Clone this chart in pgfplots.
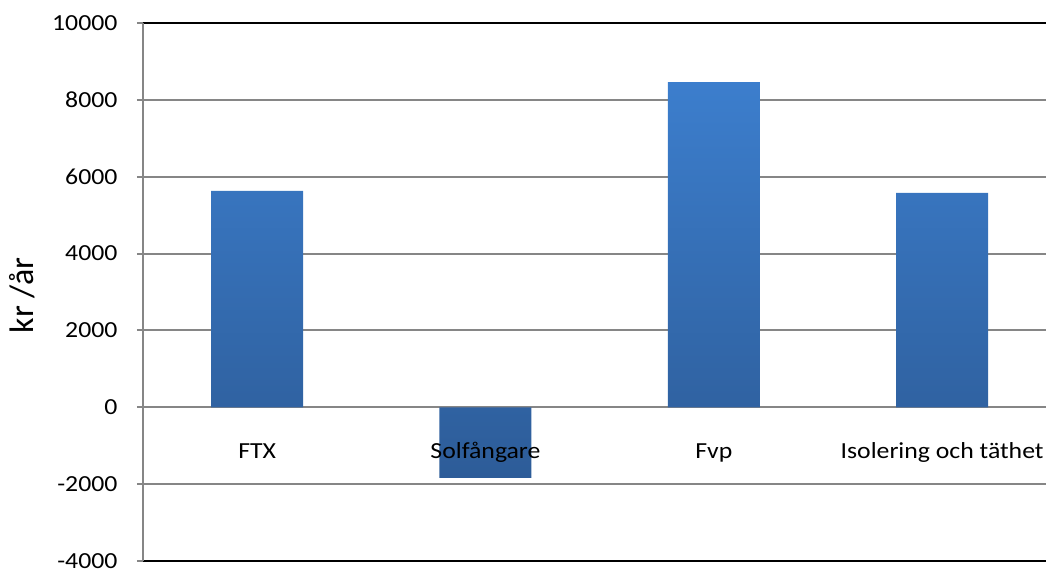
\documentclass[border=0pt]{standalone}
\usepackage{pgfplots}
\pgfplotsset{compat=1.18}
\usepackage{fontspec}
\setmainfont{Carlito}[FakeStretch=1.12]
\newfontfamily\ylabfont{Carlito}
\definecolor{bartop}{RGB}{60,126,205}
\definecolor{barbot}{RGB}{45,92,152}
\definecolor{gridgray}{RGB}{134,134,134}
\begin{document}
\begin{tikzpicture}
\begin{axis}[
  name=ax,
  scale only axis, width=903pt, height=538pt,
  xmin=-0.5, xmax=3.455, ymin=-4000, ymax=10000,
  ytick={-4000,-2000,0,2000,4000,6000,8000,10000},
  scaled y ticks=false,
  xtick=\empty,
  axis x line=box, axis y line=left,
  axis line style={-},
  x axis line style={black, line width=2pt},
  y axis line style={gridgray, line width=2pt},
  ymajorgrids, major grid style={gridgray, line width=2pt},
  tick align=outside, major tick length=6pt,
  ytick style={gridgray, line width=2pt},
  /pgf/number format/.cd, 1000 sep={}, assume math mode=true,
  /pgfplots/.cd,
  tick label style={font=\fontsize{23}{27}\selectfont, black},
  yticklabel style={xshift=-16pt},
  ylabel={kr /år},
  ylabel style={font=\ylabfont\fontsize{34}{40}\selectfont, at={(rel axis cs:-0.1335,0.494)}, anchor=center},
  clip=false,
]
\addplot[ybar, bar width=92pt, draw=none, top color=bartop, bottom color=barbot]
  coordinates {(0,5630) (1,-1840) (2,8460) (3,5580)};
\addplot[draw=none, mark=none, point meta=explicit symbolic,
  nodes near coords,
  every node near coord/.style={anchor=base, yshift=-51.5pt, inner sep=0pt, font=\fontsize{23}{27}\selectfont, text=black}]
  coordinates {(0,0) [FTX] (1,0) [Solfångare] (2,0) [Fvp] (3,0) [Isolering och täthet]};
\end{axis}
\pgfresetboundingbox
\path[use as bounding box] ([xshift=-143pt,yshift=-10pt]ax.south west) rectangle ([yshift=23pt]ax.north east);
\end{tikzpicture}
\end{document}
